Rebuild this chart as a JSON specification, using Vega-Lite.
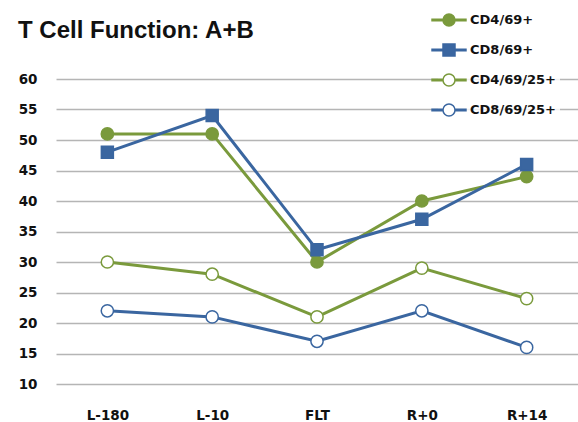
{
  "$schema": "https://vega.github.io/schema/vega-lite/v6.json",
  "width": 522,
  "height": 305,
  "autosize": {"type": "none"},
  "padding": {"left": 56, "top": 79, "right": 0, "bottom": 38},
  "background": "white",
  "title": {
    "text": "T Cell Function: A+B",
    "anchor": "start",
    "frame": "group",
    "font": "Liberation Sans",
    "fontSize": 24,
    "fontWeight": "bold",
    "color": "#111111",
    "dx": -38,
    "dy": 38
  },
  "data": {
    "values": [
      {"time": "L-180", "series": "CD4/69+", "value": 51},
      {"time": "L-10", "series": "CD4/69+", "value": 51},
      {"time": "FLT", "series": "CD4/69+", "value": 30},
      {"time": "R+0", "series": "CD4/69+", "value": 40},
      {"time": "R+14", "series": "CD4/69+", "value": 44},
      {"time": "L-180", "series": "CD8/69+", "value": 48},
      {"time": "L-10", "series": "CD8/69+", "value": 54},
      {"time": "FLT", "series": "CD8/69+", "value": 32},
      {"time": "R+0", "series": "CD8/69+", "value": 37},
      {"time": "R+14", "series": "CD8/69+", "value": 46},
      {"time": "L-180", "series": "CD4/69/25+", "value": 30},
      {"time": "L-10", "series": "CD4/69/25+", "value": 28},
      {"time": "FLT", "series": "CD4/69/25+", "value": 21},
      {"time": "R+0", "series": "CD4/69/25+", "value": 29},
      {"time": "R+14", "series": "CD4/69/25+", "value": 24},
      {"time": "L-180", "series": "CD8/69/25+", "value": 22},
      {"time": "L-10", "series": "CD8/69/25+", "value": 21},
      {"time": "FLT", "series": "CD8/69/25+", "value": 17},
      {"time": "R+0", "series": "CD8/69/25+", "value": 22},
      {"time": "R+14", "series": "CD8/69/25+", "value": 16}
    ]
  },
  "encoding": {
    "x": {
      "field": "time",
      "type": "ordinal",
      "sort": ["L-180", "L-10", "FLT", "R+0", "R+14"],
      "scale": {"type": "point", "padding": 0.49},
      "axis": {
        "title": null,
        "labelAngle": 0,
        "domain": false,
        "ticks": false,
        "grid": false,
        "labelPadding": 24,
        "labelFont": "DejaVu Sans",
        "labelFontWeight": "bold",
        "labelFontSize": 13.5,
        "labelColor": "#111111"
      }
    },
    "y": {
      "field": "value",
      "type": "quantitative",
      "scale": {"domain": [10, 60], "nice": false, "zero": false},
      "axis": {
        "title": null,
        "values": [10, 15, 20, 25, 30, 35, 40, 45, 50, 55, 60],
        "grid": true,
        "gridColor": "#b5b5b5",
        "gridWidth": 1.5,
        "domain": false,
        "ticks": false,
        "labelPadding": 19,
        "labelFont": "DejaVu Sans",
        "labelFontWeight": "bold",
        "labelFontSize": 13.5,
        "labelColor": "#111111"
      }
    }
  },
  "layer": [
    {
      "mark": {"type": "line", "strokeWidth": 3},
      "encoding": {
        "color": {
          "field": "series",
          "type": "nominal",
          "scale": {"domain": ["CD8/69/25+", "CD4/69/25+", "CD8/69+", "CD4/69+"], "range": ["#3A66A0", "#7A9A3C", "#3A66A0", "#7A9A3C"]},
          "legend": null
        }
      }
    },
    {
      "transform": [{"filter": "datum.series !== 'CD8/69+'"}],
      "mark": {"type": "point", "shape": "circle", "filled": true, "size": 150, "strokeWidth": 1.5, "opacity": 1},
      "encoding": {
        "stroke": {
          "field": "series",
          "type": "nominal",
          "scale": {"domain": ["CD4/69+", "CD8/69+", "CD4/69/25+", "CD8/69/25+"], "range": ["#7A9A3C", "#3A66A0", "#7A9A3C", "#3A66A0"]},
          "legend": {"title": null}
        },
        "fill": {
          "field": "series",
          "type": "nominal",
          "scale": {"domain": ["CD4/69+", "CD8/69+", "CD4/69/25+", "CD8/69/25+"], "range": ["#7A9A3C", "#3A66A0", "#ffffff", "#ffffff"]},
          "legend": {"title": null}
        }
      }
    },
    {
      "transform": [{"filter": "datum.series === 'CD8/69+'"}],
      "mark": {"type": "point", "shape": "square", "filled": true, "size": 144, "strokeWidth": 1.5, "opacity": 1},
      "encoding": {
        "stroke": {
          "field": "series",
          "type": "nominal",
          "scale": {"domain": ["CD4/69+", "CD8/69+", "CD4/69/25+", "CD8/69/25+"], "range": ["#7A9A3C", "#3A66A0", "#7A9A3C", "#3A66A0"]},
          "legend": {"title": null}
        },
        "fill": {
          "field": "series",
          "type": "nominal",
          "scale": {"domain": ["CD4/69+", "CD8/69+", "CD4/69/25+", "CD8/69/25+"], "range": ["#7A9A3C", "#3A66A0", "#ffffff", "#ffffff"]},
          "legend": {"title": null}
        }
      }
    },
    {
      "transform": [{"filter": "false"}],
      "mark": {"type": "point", "filled": true, "size": 144, "strokeWidth": 1.5, "opacity": 1},
      "encoding": {
        "stroke": {
          "field": "series",
          "type": "nominal",
          "scale": {"domain": ["CD4/69+", "CD8/69+", "CD4/69/25+", "CD8/69/25+"], "range": ["#7A9A3C", "#3A66A0", "#7A9A3C", "#3A66A0"]},
          "legend": {"title": null}
        },
        "fill": {
          "field": "series",
          "type": "nominal",
          "scale": {"domain": ["CD4/69+", "CD8/69+", "CD4/69/25+", "CD8/69/25+"], "range": ["#7A9A3C", "#3A66A0", "#ffffff", "#ffffff"]},
          "legend": {"title": null}
        },
        "shape": {
          "field": "series",
          "type": "nominal",
          "scale": {
            "domain": ["CD4/69+", "CD8/69+", "CD4/69/25+", "CD8/69/25+"],
            "range": [
              "M-2.83,-0.12H-1V0.12H-2.83Z M1,-0.12H2.83V0.12H1Z M-1,0A1,1,0,1,1,1,0A1,1,0,1,1,-1,0Z",
              "M-2.83,-0.12H-1V0.12H-2.83Z M1,-0.12H2.83V0.12H1Z M-1,-1H1V1H-1Z",
              "M-2.83,-0.12H-1V0.12H-2.83Z M1,-0.12H2.83V0.12H1Z M-1,0A1,1,0,1,1,1,0A1,1,0,1,1,-1,0Z",
              "M-2.83,-0.12H-1V0.12H-2.83Z M1,-0.12H2.83V0.12H1Z M-1,0A1,1,0,1,1,1,0A1,1,0,1,1,-1,0Z"
            ]
          },
          "legend": {"title": null}
        }
      }
    }
  ],
  "config": {
    "view": {"stroke": null},
    "legend": {
      "orient": "none",
      "legendX": 382,
      "legendY": -70,
      "symbolSize": 144,
      "symbolStrokeWidth": 1.5,
      "symbolOpacity": 1,
      "labelFont": "DejaVu Sans",
      "labelFontWeight": "bold",
      "labelFontSize": 13,
      "labelColor": "#111111",
      "labelOffset": 14,
      "rowPadding": 12,
      "padding": 4,
      "fillColor": "rgba(255,255,255,0.8)"
    }
  }
}
